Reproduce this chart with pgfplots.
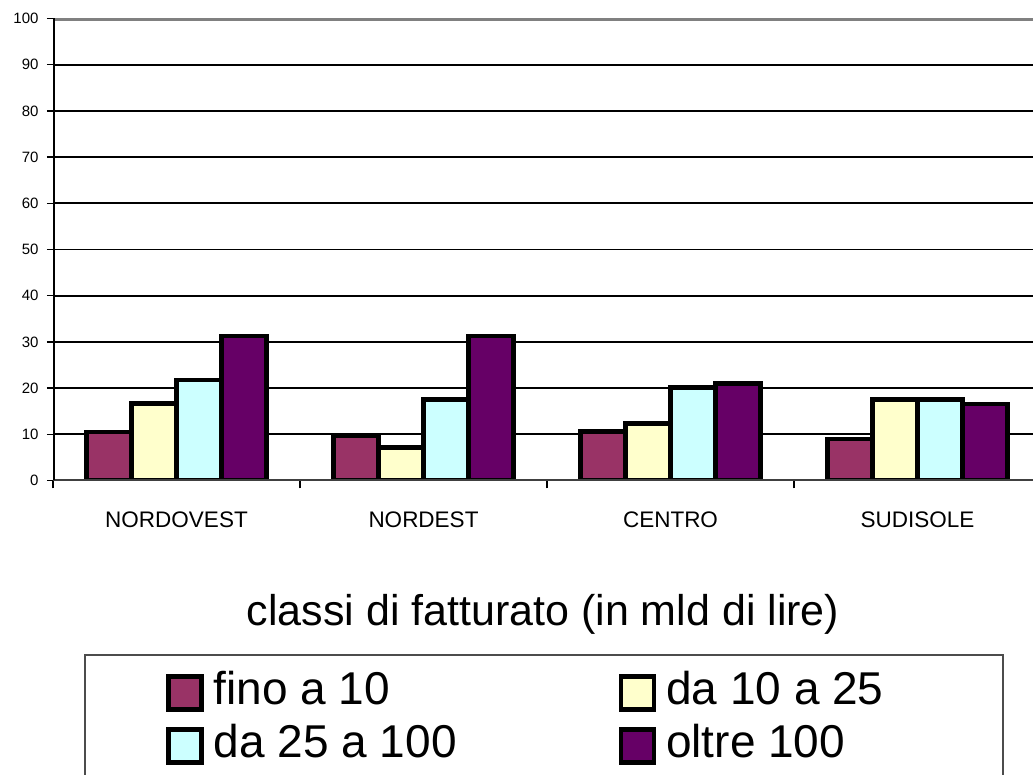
\documentclass[border=0pt]{standalone}
\usepackage{pgfplots}
\pgfplotsset{compat=1.18}
\usepackage{fontspec}
\setmainfont{Liberation Sans}
\definecolor{cA}{HTML}{993366}
\definecolor{cB}{HTML}{FFFFCC}
\definecolor{cC}{HTML}{CCFFFF}
\definecolor{cD}{HTML}{660066}
\begin{document}
\begin{tikzpicture}
\path[use as bounding box] (0pt,0pt) rectangle (1033pt,775pt);
\begin{axis}[
  at={(53pt,294.5pt)}, anchor=south west,
  scale only axis, width=980pt, height=462pt,
  ybar=0pt, bar width=45pt,
  xmin=-0.5, xmax=3.4676, ymin=0, ymax=100,
  axis line style={draw=none},
  tick pos=left,
  ytick={0,10,...,100},
  ymajorgrids, major grid style={black, line width=1.8pt},
  tick align=outside, major tick length=6pt,
  ytick style={black, line width=1.5pt},
  xtick={0,1,2,3},
  xticklabels={NORDOVEST,NORDEST,CENTRO,SUDISOLE},
  major x tick style={draw=none},
  extra x ticks={-0.5,0.5,1.5,2.5},
  extra x tick labels={},
  extra x tick style={major x tick style={draw=black, line width=1.5pt}, major tick length=8pt},
  /pgf/number format/assume math mode=true,
  yticklabel style={font=\fontsize{15}{18}\selectfont, xshift=-5pt},
  xticklabel style={font=\fontsize{22.5}{26}\selectfont, yshift=-22pt},
  xlabel={classi di fatturato (in mld di lire)},
  xlabel style={at={(axis description cs:0.5,-0.3149)}, anchor=base, font=\fontsize{43}{50}\selectfont},
  legend image code/.code={\draw[#1] (0pt,-20.5pt) rectangle (33pt,12.5pt);},
  legend columns=2, legend cell align=left,
  legend style={at={(0.1155,-0.4134)}, anchor=north west, draw=none, fill=none,
    inner sep=0pt, outer sep=0pt, row sep=13pt,
    nodes={inner sep=0pt, font=\fontsize{46}{50}\selectfont},
    /tikz/every odd column/.append style={column sep=10pt},
    /tikz/every even column/.append style={column sep=162pt}},
  every axis plot/.append style={draw=black, line width=4.5pt},
]
\addplot[fill=cA] coordinates {(0,10.5) (1,9.7) (2,10.6) (3,9.0)};
\addplot[fill=cB] coordinates {(0,16.7) (1,7.1) (2,12.3) (3,17.5)};
\addplot[fill=cC] coordinates {(0,21.8) (1,17.5) (2,20.1) (3,17.5)};
\addplot[fill=cD] coordinates {(0,31.3) (1,31.3) (2,21.0) (3,16.6)};
\legend{fino a 10, da 10 a 25, da 25 a 100, oltre 100}
\draw[black!50, line width=5pt] (rel axis cs:0,1) -- (rel axis cs:1,1);
\draw[black!75, line width=3pt] (rel axis cs:0,0) -- (rel axis cs:1,0);
\draw[black, line width=3.5pt] (rel axis cs:0,1) -- (rel axis cs:0,0);
\end{axis}
\draw[black!70, line width=2pt] (84.5pt,-30pt) -- (84.5pt,120pt) -- (1002.5pt,120pt) -- (1002.5pt,-30pt);
\end{tikzpicture}
\end{document}
